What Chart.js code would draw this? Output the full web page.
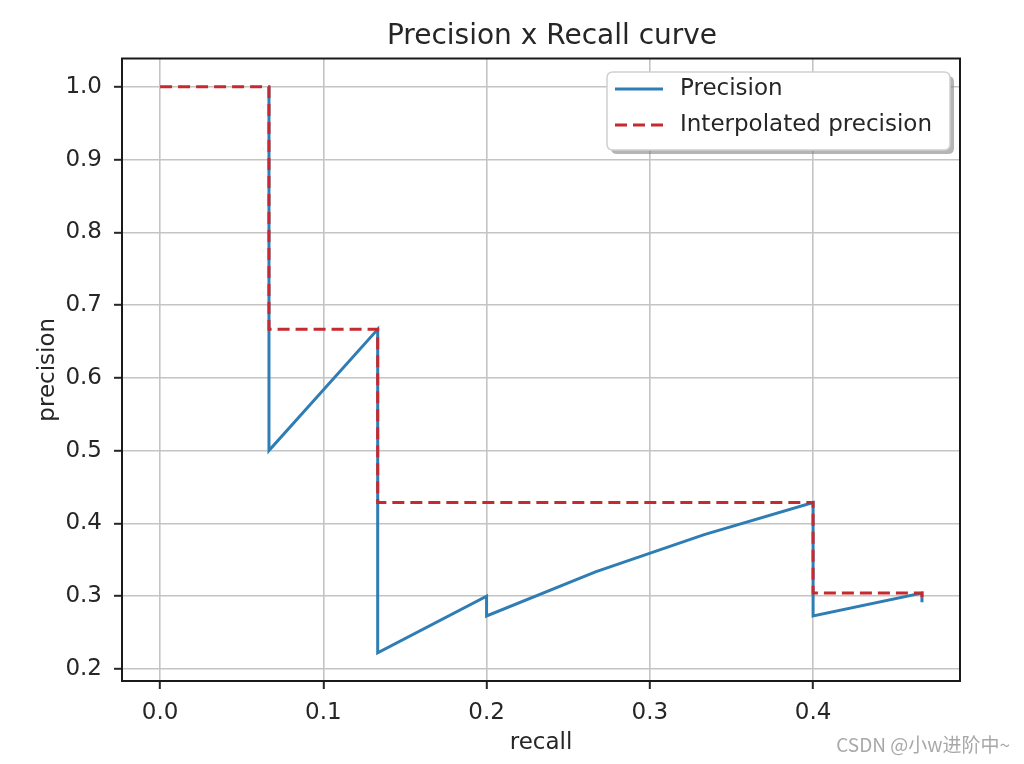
<!DOCTYPE html>
<html>
<head>
<meta charset="utf-8">
<script src="https://cdn.jsdelivr.net/npm/chart.js@4/dist/chart.umd.min.js"></script>
<style>
  html, body { margin: 0; padding: 0; background: #ffffff; }
  #wrap { width: 1024px; height: 764px; position: relative; }
</style>
</head>
<body>
<div id="wrap"><canvas id="c" width="1024" height="764"></canvas></div>
<script>
// ---- data ----
const recall = [0.0667, 0.0667, 0.1333, 0.1333, 0.1333, 0.1333, 0.1333, 0.1333, 0.1333, 0.2, 0.2, 0.2667, 0.3333, 0.4, 0.4, 0.4, 0.4, 0.4, 0.4, 0.4, 0.4, 0.4, 0.4667, 0.4667];
const precision = [1.0, 0.5, 0.6667, 0.5, 0.4, 0.3333, 0.2857, 0.25, 0.2222, 0.3, 0.2727, 0.3333, 0.3846, 0.4286, 0.4, 0.375, 0.3529, 0.3333, 0.3158, 0.3, 0.2857, 0.2727, 0.3043, 0.2917];
const interpRecall = [0.0, 0.0667, 0.0667, 0.1333, 0.1333, 0.4, 0.4, 0.4667, 0.4667];
const interpPrecision = [1.0, 1.0, 0.6667, 0.6667, 0.4286, 0.4286, 0.3043, 0.3043, 0.2917];
const xTicks = [0.0, 0.1, 0.2, 0.3, 0.4];
const yTicks = [0.2, 0.3, 0.4, 0.5, 0.6, 0.7, 0.8, 0.9, 1.0];
const titleText = 'Precision x Recall curve';
const xLabel = 'recall';
const yLabel = 'precision';
const seriesNames = ['Precision', 'Interpolated precision'];
const watermark = 'CSDN @小w进阶中~';

const toXY = (xs, ys) => xs.map((x, i) => ({ x: x, y: ys[i] }));

Chart.defaults.font.family = "'DejaVu Sans', sans-serif";
Chart.defaults.color = '#262626';

const BLUE = '#2f7db5';
const RED = '#c42a30';

const framePlugin = {
  id: 'frame',
  afterDraw(chart) {
    const ctx = chart.ctx;
    const a = chart.chartArea;
    ctx.save();
    ctx.strokeStyle = '#1a1a1a';
    ctx.lineWidth = 2;
    ctx.strokeRect(a.left, a.top, a.right - a.left, a.bottom - a.top);

    // title
    ctx.fillStyle = '#262626';
    ctx.font = "28px 'DejaVu Sans'";
    ctx.textAlign = 'center';
    ctx.textBaseline = 'middle';
    ctx.fillText(titleText, 552, 37);

    // legend box (matplotlib style with shadow)
    const bx = 607, by = 72, bw = 343, bh = 78, r = 6;
    const rr = (x, y, w, h) => {
      ctx.beginPath();
      ctx.moveTo(x + r, y);
      ctx.lineTo(x + w - r, y);
      ctx.quadraticCurveTo(x + w, y, x + w, y + r);
      ctx.lineTo(x + w, y + h - r);
      ctx.quadraticCurveTo(x + w, y + h, x + w - r, y + h);
      ctx.lineTo(x + r, y + h);
      ctx.quadraticCurveTo(x, y + h, x, y + h - r);
      ctx.lineTo(x, y + r);
      ctx.quadraticCurveTo(x, y, x + r, y);
      ctx.closePath();
    };
    rr(bx + 4, by + 4, bw, bh);
    ctx.fillStyle = 'rgba(120,120,120,0.55)';
    ctx.fill();
    rr(bx, by, bw, bh);
    ctx.fillStyle = '#ffffff';
    ctx.fill();
    ctx.strokeStyle = '#d0d0d0';
    ctx.lineWidth = 1.5;
    ctx.stroke();

    const ds = chart.data.datasets;
    const rows = [89, 125];
    ds.forEach((d, i) => {
      ctx.beginPath();
      ctx.strokeStyle = d.borderColor;
      ctx.lineWidth = d.borderWidth;
      ctx.setLineDash(d.borderDash || []);
      ctx.moveTo(615, rows[i]);
      ctx.lineTo(663, rows[i]);
      ctx.stroke();
      ctx.setLineDash([]);
      ctx.fillStyle = '#262626';
      ctx.font = "23px 'DejaVu Sans'";
      ctx.textAlign = 'left';
      ctx.textBaseline = 'middle';
      ctx.fillText(d.label, 680, rows[i]);
    });

    // watermark
    ctx.font = "19px 'Noto Sans CJK SC'";
    ctx.fillStyle = '#a8a8a8';
    ctx.textAlign = 'right';
    ctx.textBaseline = 'middle';
    ctx.fillText(watermark, 1010, 745);
    ctx.restore();
  }
};

new Chart(document.getElementById('c'), {
  type: 'scatter',
  data: {
    datasets: [
      {
        label: seriesNames[0],
        data: toXY(recall, precision),
        showLine: true,
        borderColor: BLUE,
        backgroundColor: BLUE,
        borderWidth: 3,
        pointRadius: 0,
        tension: 0,
        order: 2
      },
      {
        label: seriesNames[1],
        data: toXY(interpRecall, interpPrecision),
        showLine: true,
        borderColor: RED,
        backgroundColor: RED,
        borderWidth: 3,
        borderDash: [12, 6],
        pointRadius: 0,
        tension: 0,
        order: 1
      }
    ]
  },
  options: {
    responsive: false,
    animation: false,
    layout: { padding: { left: 0, right: 64, top: 58.5, bottom: 0 } },
    plugins: {
      legend: { display: false },
      tooltip: { enabled: false },
      title: { display: false }
    },
    scales: {
      x: {
        type: 'linear',
        min: -0.02333,
        max: 0.49,
        afterBuildTicks: (s) => { s.ticks = xTicks.map(v => ({ value: v })); },
        afterFit: (s) => { s.height = 83; },
        ticks: {
          callback: (v) => Number(v).toFixed(1),
          font: { size: 23 },
          color: '#262626',
          padding: 10,
          maxRotation: 0
        },
        grid: { color: '#c4c4c4', lineWidth: 1.6, tickColor: '#262626', tickLength: 8, tickWidth: 2 },
        border: { display: false },
        title: { display: true, text: xLabel, font: { size: 23 }, color: '#262626', padding: { top: 0, bottom: 7 } }
      },
      y: {
        type: 'linear',
        min: 0.18333,
        max: 1.03889,
        afterBuildTicks: (s) => { s.ticks = yTicks.map(v => ({ value: v })); },
        afterFit: (s) => { s.width = 122; },
        ticks: {
          callback: (v) => Number(v).toFixed(1),
          font: { size: 23 },
          color: '#262626',
          padding: 12
        },
        grid: { color: '#c4c4c4', lineWidth: 1.6, tickColor: '#262626', tickLength: 8, tickWidth: 2 },
        border: { display: false },
        title: { display: true, text: yLabel, font: { size: 23 }, color: '#262626', padding: { top: 34, bottom: 0 } }
      }
    }
  },
  plugins: [framePlugin]
});
</script>
</body>
</html>
